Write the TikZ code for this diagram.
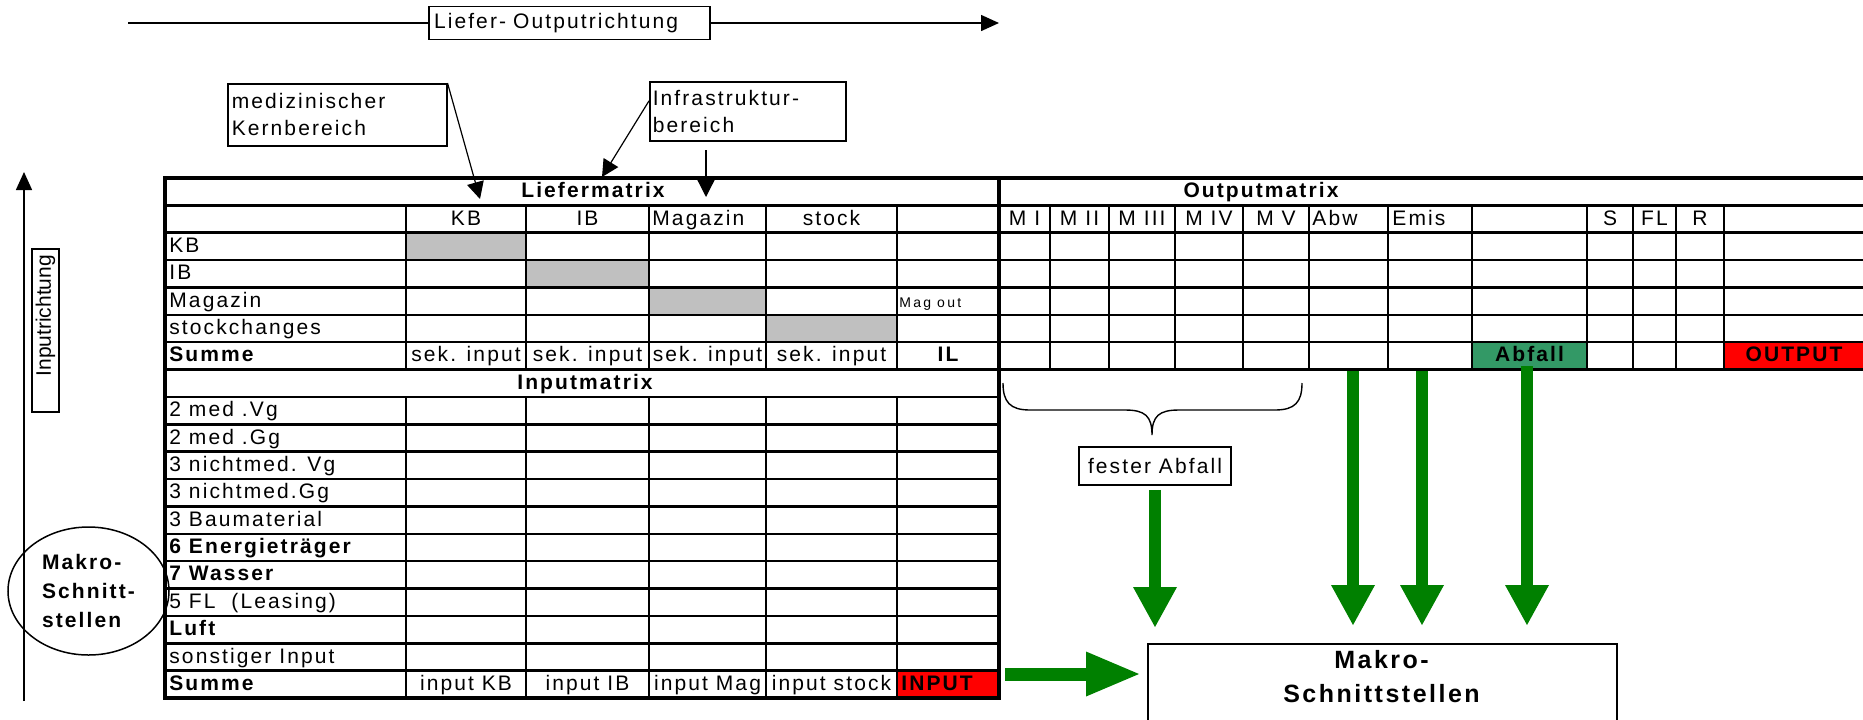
\documentclass[tikz,border=0pt]{standalone}
\usepackage{fontspec}
\setmainfont{Liberation Sans}[LetterSpace=10]
\newfontfamily\plainfont{Liberation Sans}
\usetikzlibrary{arrows.meta,shapes.geometric}
\definecolor{cellgray}{HTML}{C0C0C0}
\definecolor{abfallgreen}{HTML}{339966}
\definecolor{arrowgreen}{HTML}{008000}
\definecolor{signalred}{HTML}{FF0000}
\begin{document}
\begin{tikzpicture}[x=0.5pt,y=-0.5pt,
  every node/.style={font=\fontsize{10.5}{12.6}\selectfont},
  cell/.style={inner sep=0pt, text height=0.8em, text depth=0.2em},
  lcell/.style={cell, anchor=west},
  bcell/.style={cell, font=\fontsize{10.5}{12.6}\selectfont\bfseries},
  blcell/.style={bcell, anchor=west},
  gridline/.style={line width=1.25pt},
  heavyline/.style={line width=1.75pt, line cap=rect, line join=miter},
  callout/.style={draw, line width=0.75pt, fill=white},
  pointer/.style={line width=0.6pt, -{Triangle[length=8.5pt,width=8.5pt]}},
  greenarrow/.style={draw=arrowgreen, line width=6pt, -{Triangle[length=20pt,width=22pt,line width=0pt]}},
  bigarrow/.style={draw=arrowgreen, line width=6.5pt, -{Triangle[length=26.5pt,width=22.5pt,line width=0pt]}}
]
\useasboundingbox (0,0) rectangle (1863,719);
\clip (0,0) rectangle (1863,719);

% ---------- direction arrows ----------
\coordinate (topS) at (128,23);
\coordinate (topE) at (999,23);
\draw[line width=0.75pt, -{Triangle[length=9pt,width=8pt]}] (topS) -- (topE);
\node[callout, minimum width=140.5pt, minimum height=15pt, inner xsep=2.5pt, text width=135.5pt, align=left] (lo) at (569.5,23) {Liefer- Outputrichtung};

\coordinate (leftS) at (24,701);
\coordinate (leftE) at (24,172);
\draw[line width=0.75pt, -{Triangle[length=9pt,width=8pt]}] (leftS) -- (leftE);
\node[draw, line width=0.75pt, rotate=90, minimum height=13.5pt, inner xsep=3pt, inner ysep=0pt, text width=75.5pt, align=right, font=\plainfont\fontsize{10.5}{12.6}\selectfont] (inr) at (45.5,330.5) {Inputrichtung};

\node[draw, ellipse, line width=0.75pt, minimum width=80.5pt, minimum height=64pt, inner sep=0pt, align=left, font=\fontsize{10.5}{14.5}\selectfont\bfseries] (mks) at (88.5,591) {Makro-\\Schnitt-\\stellen};

% ---------- cell fills ----------
\fill[cellgray] (406,232.7) rectangle (526,260.1);
\fill[cellgray] (526,260.1) rectangle (649,287.5);
\fill[cellgray] (649,287.5) rectangle (766,314.9);
\fill[cellgray] (766,314.9) rectangle (897,342.2);
\fill[abfallgreen] (1472,342.2) rectangle (1587,369.6);
\fill[signalred] (1724,342.2) rectangle (1863,369.6);
\fill[signalred] (897,670.7) rectangle (999,698);

% ---------- grid ----------
\foreach \y in {205.4,232.7,260.1,287.5,314.9,342.2}
  \draw[gridline] (165,\y) -- (1863,\y);
\foreach \y in {397.0,424.3,451.7,479.1,506.4,533.8,561.2,588.6,615.9,643.3,670.7}
  \draw[gridline] (165,\y) -- (999,\y);
\foreach \x in {406,526,649,766,897} {
  \draw[gridline] (\x,205.4) -- (\x,369.6);
  \draw[gridline] (\x,397.0) -- (\x,698.0);
}
\foreach \x in {1050,1109,1175,1243,1309,1388,1472,1587,1633,1676,1724}
  \draw[gridline] (\x,205.4) -- (\x,369.6);
\draw[heavyline] (1863,178) -- (165,178) -- (165,698) -- (999,698) -- (999,178);
\draw[heavyline] (165,369.6) -- (1863,369.6);

% ---------- Liefermatrix ----------
\node[bcell] (hLief) at (593,191.7) {Liefermatrix};
\node[cell] (hKB) at (466,219.1) {KB};
\node[cell] (hIB) at (587.5,219.1) {IB};
\node[lcell] (hMag) at (652,219.1) {Magazin};
\node[cell] (hSt) at (831.5,219.1) {stock};
\node[lcell] (rKB) at (169,246.4) {KB};
\node[lcell] (rIB) at (169,273.8) {IB};
\node[lcell] (rMag) at (169,301.2) {Magazin};
\node[lcell] (rSt) at (169,328.5) {stockchanges};
\node[blcell] (rSum) at (169,355.9) {Summe};
\node[lcell, font=\fontsize{7}{8}\selectfont\addfontfeature{LetterSpace=16}] (magout) at (899,301.2) {Mag out};
\node[cell] (s1) at (466,355.9) {sek. input};
\node[cell] (s2) at (587.5,355.9) {sek. input};
\node[cell] (s3) at (707.5,355.9) {sek. input};
\node[cell] (s4) at (831.5,355.9) {sek. input};
\node[bcell] (sIL) at (948,355.9) {IL};

% ---------- Outputmatrix ----------
\node[bcell] (hOut) at (1261,191.7) {Outputmatrix};
\node[cell] (m1) at (1024.5,219.1) {M I};
\node[cell] (m2) at (1079.5,219.1) {M II};
\node[cell] (m3) at (1142,219.1) {M III};
\node[cell] (m4) at (1209,219.1) {M IV};
\node[cell] (m5) at (1276,219.1) {M V};
\node[lcell] (abw) at (1312,219.1) {Abw};
\node[lcell] (emis) at (1392,219.1) {Emis};
\node[cell] (oS) at (1610,219.1) {S};
\node[cell] (oFL) at (1654.5,219.1) {FL};
\node[cell] (oR) at (1700,219.1) {R};
\node[bcell] (abfall) at (1529.5,355.9) {Abfall};
\node[bcell] (output) at (1794,355.9) {OUTPUT};

% ---------- Inputmatrix ----------
\node[bcell] (hIn) at (585,383.3) {Inputmatrix};
\node[lcell] (i1) at (169,410.6) {2 med .Vg};
\node[lcell] (i2) at (169,438.0) {2 med .Gg};
\node[lcell] (i3) at (169,465.4) {3 nichtmed. Vg};
\node[lcell] (i4) at (169,492.8) {3 nichtmed.Gg};
\node[lcell] (i5) at (169,520.1) {3 Baumaterial};
\node[blcell] (i6) at (169,547.5) {6 Energieträger};
\node[blcell] (i7) at (169,574.9) {7 Wasser};
\node[lcell] (i8) at (169,602.2) {5 FL~~(Leasing)};
\node[blcell] (i9) at (169,629.6) {Luft};
\node[lcell] (i10) at (169,657.0) {sonstiger Input};
\node[blcell] (i11) at (169,684.3) {Summe};
\node[cell] (t1) at (466,684.3) {input KB};
\node[cell] (t2) at (587.5,684.3) {input IB};
\node[cell] (t3) at (707.5,684.3) {input Mag};
\node[cell] (t4) at (831.5,684.3) {input stock};
\node[blcell] (tIN) at (901,684.3) {INPUT};

% ---------- callouts ----------
\node[callout, anchor=north west, minimum width=109.5pt, minimum height=31pt, inner xsep=2pt, text width=105.5pt, align=left, font=\fontsize{10.5}{13.5}\selectfont] (med) at (227,83) {medizinischer\\Kernbereich};
\node[callout, anchor=north west, minimum width=98pt, minimum height=29.5pt, inner xsep=1.5pt, text width=95pt, align=left, font=\fontsize{10.5}{13.5}\selectfont] (infra) at (649,81) {Infrastruktur-\\bereich};
\coordinate (kbtip) at (480,199);
\coordinate (ibtip) at (602,177);
\coordinate (infS) at (706,150);
\coordinate (infE) at (706,197);
\draw[pointer] (med.north east) -- (kbtip);
\draw[pointer] (infra.174) -- (ibtip);
\draw[pointer] (infS) -- (infE);

% ---------- brace and fester Abfall ----------
\draw[line width=0.7pt] (1003,383) .. controls (1003,402) and (1010,410) .. (1030,410)
  -- (1125,410) .. controls (1145,410) and (1152,416) .. (1152,435)
  .. controls (1152,416) and (1159,410) .. (1179,410)
  -- (1275,410) .. controls (1295,410) and (1302,402) .. (1302,383);
\node[callout, minimum width=76pt, minimum height=19pt, inner sep=0pt] (fester) at (1155,466) {fester Abfall};

% ---------- Makro-Schnittstellen box ----------
\node[draw, line width=0.75pt, anchor=north west, minimum width=234.5pt, minimum height=60pt] (makro) at (1147,643) {};
\node[anchor=north, align=center, inner sep=0pt, font=\fontsize{12.5}{17}\selectfont\bfseries] (makroT) at (1381.5,649.7) {Makro-\\Schnittstellen};

% ---------- green arrows ----------
\coordinate (g1E) at (1155,627);
\coordinate (g2S) at (1353,371);
\coordinate (g2E) at (1353,625);
\coordinate (g3S) at (1422,371);
\coordinate (g3E) at (1422,625);
\coordinate (g4S) at (1527,366);
\coordinate (g4E) at (1527,625);
\coordinate (hS) at (1005,674);
\coordinate (hE) at (1139,674);
\draw[greenarrow, shorten <=2pt] (fester.south) -- (g1E);
\draw[greenarrow] (g2S) -- (g2E);
\draw[greenarrow] (g3S) -- (g3E);
\draw[greenarrow] (g4S) -- (g4E);
\draw[bigarrow] (hS) -- (hE);
\end{tikzpicture}
\end{document}
